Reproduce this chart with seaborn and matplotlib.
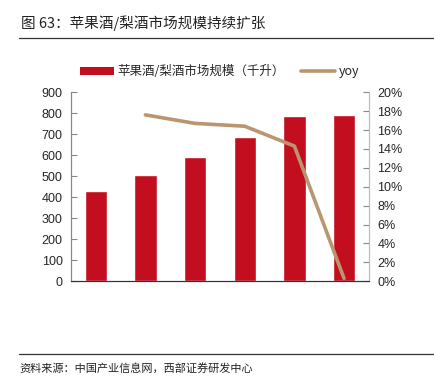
import matplotlib
matplotlib.use('Agg')
import matplotlib.pyplot as plt
import matplotlib.ticker as mticker
from matplotlib.patches import Patch
from matplotlib.lines import Line2D
import seaborn as sns
import pandas as pd

# Data
years = ['2015', '2016', '2017', '2018', '2019', '2020']
market_size = [430, 506, 592, 689, 787, 792]
yoy_years = ['2016', '2017', '2018', '2019', '2020']
yoy = [17.6, 16.7, 16.4, 14.3, 0.3]

bar_color = '#C20E1E'
line_color = '#BA9570'

sns.set_style('white')
plt.rcParams['font.family'] = ['Liberation Sans', 'Noto Sans CJK SC', 'DejaVu Sans']
cjk = ['Noto Sans CJK SC', 'DejaVu Sans']

fig = plt.figure(figsize=(4.35, 3.89), dpi=100)
ax = fig.add_axes([0.163, 0.277, 0.685, 0.486])

df = pd.DataFrame({'year': years, 'size': market_size})
sns.barplot(data=df, x='year', y='size', color=bar_color, width=0.45, saturation=1, ax=ax)

ax2 = ax.twinx()
dfl = pd.DataFrame({'pos': [years.index(y) for y in yoy_years], 'yoy': yoy})
sns.lineplot(data=dfl, x='pos', y='yoy', color=line_color, linewidth=2.6, ax=ax2)

ax.set_xlim(-0.5, 5.5)
ax.set_ylim(0, 900)
ax.set_yticks(range(0, 901, 100))
ax2.set_ylim(0, 20)
ax2.set_yticks(range(0, 21, 2))
ax2.yaxis.set_major_formatter(mticker.FuncFormatter(lambda v, p: f'{v:.0f}%'))

for a in (ax, ax2):
    a.set_xlabel('')
    a.set_ylabel('')
    a.spines['top'].set_visible(False)
    a.spines['left'].set_color('#888888')
    a.spines['right'].set_color('#BBBBBB')
    a.spines['bottom'].set_color('#333333')
    for s in a.spines.values():
        s.set_linewidth(0.8)

ax.tick_params(axis='y', direction='in', length=4, color='#888888', labelsize=9, pad=6)
ax2.tick_params(axis='y', direction='in', length=4, color='#888888', labelsize=9, pad=6)
ax.tick_params(axis='x', length=0, labelsize=9, pad=6)
ax.set_xticks(range(len(years)), years)
ax.xaxis.set_minor_locator(mticker.FixedLocator([i + 0.5 for i in range(len(years) - 1)]))
ax.tick_params(axis='x', which='minor', direction='in', length=3, color='#888888')
ax2.set_xticks([])

handles = [Patch(facecolor=bar_color, edgecolor='none'),
           Line2D([0], [0], color=line_color, linewidth=2.6)]
labels = ['苹果酒/梨酒市场规模（千升）', 'yoy']
fig.legend(handles, labels, loc='center', bbox_to_anchor=(0.505, 0.815), ncol=2,
           frameon=False, handlelength=2.7, handleheight=0.6, columnspacing=1.3,
           handletextpad=0.3, prop={'family': cjk, 'size': 9})

fig.text(0.048, 0.94, '图 63：苹果酒/梨酒市场规模持续扩张', family=cjk, fontsize=10.5,
         va='center', ha='left', color='#222222')
fig.add_artist(Line2D([0.044, 1.0], [0.902, 0.902], color='#333333', linewidth=0.9))
fig.add_artist(Line2D([0.044, 1.0], [0.09, 0.09], color='#333333', linewidth=0.9))
fig.text(0.044, 0.054, '资料来源：中国产业信息网，西部证券研发中心', family=cjk, fontsize=8,
         va='center', ha='left', color='#222222')

fig.savefig('out.png', dpi=100)
